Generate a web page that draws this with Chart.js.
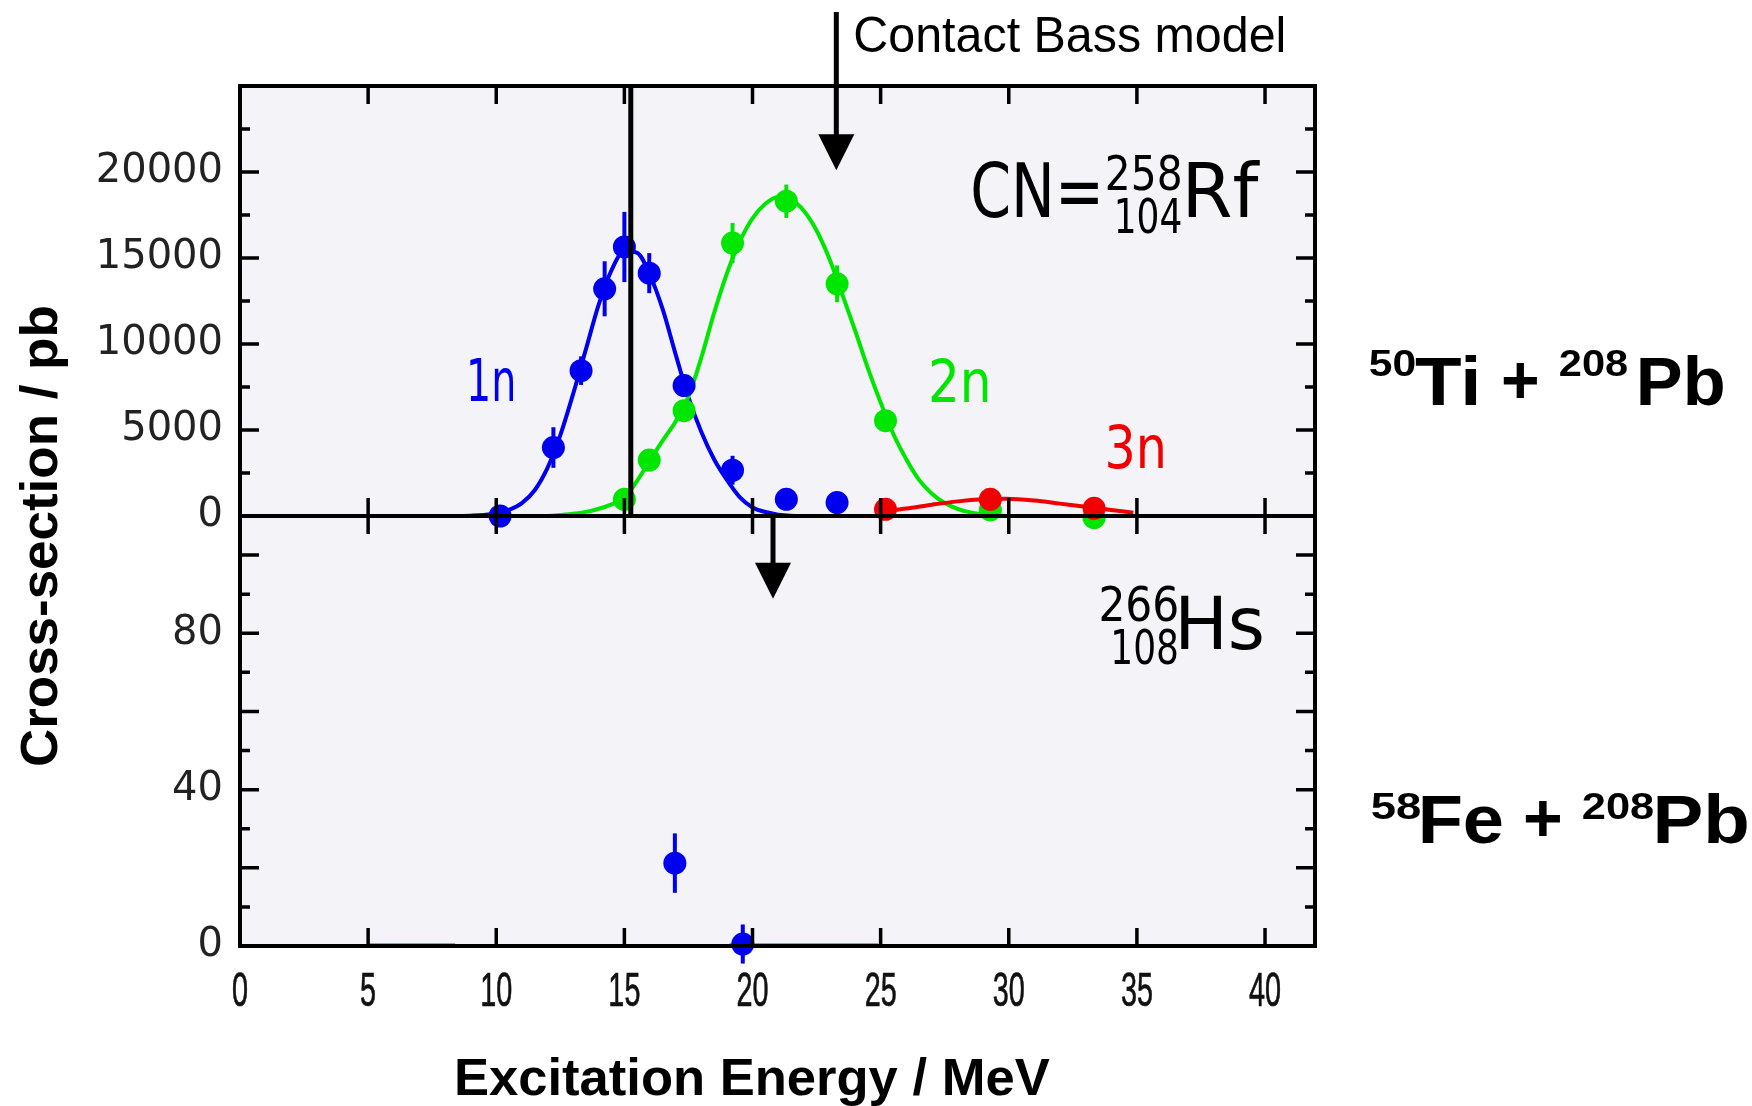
<!DOCTYPE html>
<html><head><meta charset="utf-8">
<script src="https://cdn.jsdelivr.net/npm/chart.js@4/dist/chart.umd.min.js"></script>
<style>html,body{margin:0;padding:0;background:#fff;}#wrap{width:1752px;height:1106px;position:relative;}</style>
</head><body><div id="wrap"><canvas id="c" width="1752" height="1106"></canvas></div>
<script>
// ---------------- data ----------------
const energyMin = 0, energyMax = 41.95;
const tiSigmaMax = 25000;   // upper panel (50Ti + 208Pb), pb
const feSigmaMax = 110;     // lower panel (58Fe + 208Pb), pb

// 1n (blue) measured points, 50Ti + 208Pb
const oneN_E     = [10.15, 12.23, 13.31, 14.23, 15.0, 15.97, 17.33, 19.22, 21.32, 23.3];
const oneN_sigma = [0, 3980, 8450, 13210, 15640, 14120, 7580, 2660, 970, 780];
const oneN_err   = [0, 1180, 830, 1600, 2040, 1165, 0, 840, 0, 0];
// 2n (green)
const twoN_E     = [15.0, 15.97, 17.33, 19.22, 21.32, 23.3, 25.19, 29.28, 33.33];
const twoN_sigma = [970, 3250, 6120, 15870, 18300, 13500, 5540, 350, -100];
const twoN_err   = [0, 0, 0, 1170, 970, 1070, 0, 0, 0];
// 3n (red)
const threeN_E     = [25.19, 29.28, 33.33];
const threeN_sigma = [390, 970, 450];

// fitted curves
const oneNFit_E = [8.5,9,9.5,10,10.5,11,11.5,12,12.5,13,13.5,14,14.5,15,15.5,16,16.5,17,17.5,18,18.5,19,19.5,20,20.5,21,21.5,22];
const oneNFit_sigma = [0,20,60,160,360,750,1500,2800,4700,7100,9700,12300,14300,15400,15300,14000,12000,9400,6900,4900,3300,2100,1100,500,230,80,15,0];
const twoNFit_E = [12,12.5,13,13.5,14,14.5,15,15.5,16,16.5,17,17.5,18,18.5,19,19.5,20,20.5,21,21.5,22,22.5,23,23.5,24,24.5,25,25.5,26,26.5,27,27.5,28,28.5,29,29.5,29.9];
const twoNFit_sigma = [0,60,130,240,420,680,1050,2050,3250,4400,5500,6950,9200,11800,14100,15950,17300,18150,18550,18400,17750,16600,14950,12900,10800,8600,6600,4750,3300,2100,1300,760,420,210,90,30,0];
const threeNFit_E = [25.19,26,27,28,29,29.9,31,32,33,34,34.86];
const threeNFit_sigma = [300,440,660,850,970,1000,900,720,540,350,190];

// 58Fe + 208Pb (blue) points
const fe_E     = [16.97, 19.62];
const fe_sigma = [21.2, 0.5];
const fe_err   = [7.6, 5];
const feFitA_E = [5.05, 8.4], feFitA_sigma = [0.4, 0.4];
const feFitB_E = [19.1, 24.9], feFitB_sigma = [0.4, 0.4];

// markers
const markerLineE = 15.25;                       // vertical line in upper panel
const bassArrowUpper = {E: 23.27, from: 29300, to: 20100};
const bassArrowLower = {E: 20.8, from: 110, to: 88.8};

// axis tick settings
const xStep = 5, tiStep = 2500, tiLabelStep = 5000, feStep = 10, feLabelStep = 40;

// ---------------- helpers ----------------
const BLUE = '#0000f0', GREEN = '#00e600', RED = '#f00000';
const pts = (xs, ys) => xs.map((x,i)=>({x:x, y:ys[i]}));

function inkText(ctx, s, left, baseline, font, color, inkW){
  ctx.save();
  ctx.font = font; ctx.fillStyle = color; ctx.textAlign='left'; ctx.textBaseline='alphabetic';
  const m = ctx.measureText(s);
  const w = m.actualBoundingBoxLeft + m.actualBoundingBoxRight;
  const sx = inkW ? inkW / w : 1;
  ctx.translate(left, baseline); ctx.scale(sx, 1);
  ctx.fillText(s, m.actualBoundingBoxLeft, 0);
  ctx.restore();
}
function centerText(ctx, s, cx, baseline, font, color, sx, strokeW){
  ctx.save();
  ctx.font = font; ctx.fillStyle = color; ctx.strokeStyle = color; ctx.textAlign='center'; ctx.textBaseline='alphabetic';
  ctx.translate(cx, baseline); ctx.scale(sx, 1);
  ctx.fillText(s, 0, 0);
  if (strokeW) { ctx.lineWidth = strokeW; ctx.strokeText(s, 0, 0); }
  ctx.restore();
}
function arrow(ctx, px, yTop, yTip){
  const hl = 36, hw = 18;
  ctx.save(); ctx.fillStyle='#000'; ctx.strokeStyle='#000'; ctx.lineWidth=5;
  ctx.beginPath(); ctx.moveTo(px, yTop); ctx.lineTo(px, yTip-hl+2); ctx.stroke();
  ctx.beginPath(); ctx.moveTo(px-hw, yTip-hl); ctx.lineTo(px+hw, yTip-hl); ctx.lineTo(px, yTip); ctx.closePath(); ctx.fill();
  ctx.restore();
}

const deco = {
  id: 'deco',
  beforeDraw(chart){
    const {ctx, chartArea:a} = chart;
    ctx.save(); ctx.fillStyle='#f3f3f8'; ctx.fillRect(a.left, a.top, a.right-a.left, a.bottom-a.top); ctx.restore();
  },
  beforeDatasetsDraw(chart){
    const ctx = chart.ctx;
    chart.data.datasets.forEach((ds, i)=>{
      if(!ds.errors) return;
      const meta = chart.getDatasetMeta(i), ys = chart.scales[ds.yAxisID];
      ctx.save(); ctx.strokeStyle = ds.backgroundColor; ctx.lineWidth = 4; ctx.lineCap='butt';
      ds.data.forEach((p, j)=>{
        const e = ds.errors[j]; if(!e) return;
        const px = meta.data[j].x;
        ctx.beginPath(); ctx.moveTo(px, ys.getPixelForValue(p.y-e)); ctx.lineTo(px, ys.getPixelForValue(p.y+e)); ctx.stroke();
      });
      ctx.restore();
    });
  },
  afterDatasetsDraw(chart){
    const {ctx, chartArea:a} = chart;
    const X = chart.scales.x, Y = chart.scales.y, Y2 = chart.scales.y2;
    const top = a.top, mid = Y.getPixelForValue(0), bot = a.bottom;
    // vertical marker line
    ctx.save(); ctx.strokeStyle='#000'; ctx.lineWidth=5;
    const mx = X.getPixelForValue(markerLineE);
    ctx.beginPath(); ctx.moveTo(mx, top); ctx.lineTo(mx, mid); ctx.stroke(); ctx.restore();
    // arrows
    arrow(ctx, X.getPixelForValue(bassArrowUpper.E), Y.getPixelForValue(bassArrowUpper.from), Y.getPixelForValue(bassArrowUpper.to));
    arrow(ctx, X.getPixelForValue(bassArrowLower.E), Y2.getPixelForValue(bassArrowLower.from), Y2.getPixelForValue(bassArrowLower.to));
    // frame
    ctx.save(); ctx.strokeStyle='#000'; ctx.lineWidth=4;
    ctx.strokeRect(a.left, top, a.right-a.left, bot-top);
    ctx.beginPath(); ctx.moveTo(a.left, mid); ctx.lineTo(a.right, mid); ctx.stroke();
    // ticks
    ctx.lineWidth=3.5;
    const L = 18;
    X.ticks.forEach(t=>{
      if(t.value<=energyMin || t.value>=energyMax) return;
      const px = X.getPixelForValue(t.value);
      ctx.beginPath();
      ctx.moveTo(px, top); ctx.lineTo(px, top+L);
      ctx.moveTo(px, mid-L); ctx.lineTo(px, mid+L);
      ctx.moveTo(px, bot); ctx.lineTo(px, bot-L);
      ctx.stroke();
    });
    const yt = (S, majorStep) => S.ticks.forEach(t=>{
      if(t.value<=S.min || t.value>=S.max) return;
      const py = S.getPixelForValue(t.value);
      const len = (Math.abs(t.value % majorStep) < 1e-6) ? 19 : 10;
      ctx.beginPath(); ctx.moveTo(a.left, py); ctx.lineTo(a.left+len, py);
      ctx.moveTo(a.right, py); ctx.lineTo(a.right-len, py); ctx.stroke();
    });
    yt(Y, tiLabelStep); yt(Y2, 20);
    ctx.restore();

    // x tick labels (condensed), from the library's ticks
    X.ticks.forEach(t=>{
      if(t.value % xStep !== 0) return;
      centerText(ctx, String(t.value), X.getPixelForValue(t.value), bot + 60, '48px "Liberation Sans"', '#111', 0.6, 0.7);
    });

    // in-plot annotations (anchored on data coordinates)
    const DIN = 'DejaVu Sans';
    inkText(ctx, 'Contact Bass model', X.getPixelForValue(24.01), Y.getPixelForValue(26984), '50px "Liberation Sans"', '#000', 428);
    const cnX = X.getPixelForValue(28.62), cnY = Y.getPixelForValue(17370);
    inkText(ctx, 'CN=', cnX, cnY, '74px "'+DIN+'"', '#000', 125);
    inkText(ctx, '258', cnX+134, cnY-27, '48px "'+DIN+'"', '#000', 73);
    inkText(ctx, '104', cnX+144, cnY+16, '48px "'+DIN+'"', '#000', 63);
    inkText(ctx, 'Rf', cnX+215, cnY, '74px "'+DIN+'"', '#000', 72);
    const hsX = X.getPixelForValue(33.6), hsY = Y2.getPixelForValue(83.2);
    inkText(ctx, '266', hsX, hsY, '48px "'+DIN+'"', '#000', 76);
    inkText(ctx, '108', hsX+13, hsY+43, '48px "'+DIN+'"', '#000', 63);
    inkText(ctx, 'Hs', hsX+80, hsY+28, '73px "'+DIN+'"', '#000', 81);
    inkText(ctx, '1n', X.getPixelForValue(8.98), Y.getPixelForValue(6700), '58px "'+DIN+'"', BLUE, 43);
    inkText(ctx, '2n', X.getPixelForValue(26.98), Y.getPixelForValue(6640), '58px "'+DIN+'"', GREEN, 56);
    inkText(ctx, '3n', X.getPixelForValue(33.87), Y.getPixelForValue(2800), '58px "'+DIN+'"', RED, 55);

    // reaction labels at right
    const B = 'bold 68px "Liberation Sans"', S = 'bold 36px "Liberation Sans"';
    inkText(ctx, '50', 1370, 376, S, '#000', 45);
    inkText(ctx, 'Ti', 1415, 405, B, '#000', 62);
    inkText(ctx, '+', 1503, 403, B, '#000', 34);
    inkText(ctx, '208', 1560, 376, S, '#000', 67);
    inkText(ctx, 'Pb', 1640, 405, B, '#000', 83);
    inkText(ctx, '58', 1372, 819, S, '#000', 48);
    inkText(ctx, 'Fe', 1422, 843, B, '#000', 80);
    inkText(ctx, '+', 1525, 841, B, '#000', 35);
    inkText(ctx, '208', 1583, 819, S, '#000', 70);
    inkText(ctx, 'Pb', 1657, 843, B, '#000', 90);

    // axis titles
    inkText(ctx, 'Excitation Energy / MeV', 457, 1095, 'bold 52px "Liberation Sans"', '#000', 593);
    ctx.save(); ctx.translate(57, 536); ctx.rotate(-Math.PI/2);
    inkText(ctx, 'Cross-section / pb', -229, 0, 'bold 52px "Liberation Sans"', '#000', 458);
    ctx.restore();
  }
};

const common = {borderWidth:0, pointRadius:11.5, pointHoverRadius:11.5, showLine:false, clip:false};
const fitCommon = {borderWidth:4, pointRadius:0, showLine:true, cubicInterpolationMode:'monotone', clip:false, fill:false};

new Chart(document.getElementById('c'), {
  type: 'scatter',
  data: { datasets: [
    Object.assign({label:'3n', data:pts(threeN_E, threeN_sigma), yAxisID:'y', backgroundColor:RED, order:0}, common),
    Object.assign({label:'2n', data:pts(twoN_E, twoN_sigma), errors:twoN_err, yAxisID:'y', backgroundColor:GREEN, order:1}, common),
    Object.assign({label:'1n', data:pts(oneN_E, oneN_sigma), errors:oneN_err, yAxisID:'y', backgroundColor:BLUE, order:2}, common),
    Object.assign({label:'3n fit', data:pts(threeNFit_E, threeNFit_sigma), yAxisID:'y', borderColor:RED, order:3}, fitCommon),
    Object.assign({label:'2n fit', data:pts(twoNFit_E, twoNFit_sigma), yAxisID:'y', borderColor:GREEN, order:4}, fitCommon),
    Object.assign({label:'1n fit', data:pts(oneNFit_E, oneNFit_sigma), yAxisID:'y', borderColor:BLUE, order:5}, fitCommon),
    Object.assign({label:'Fe 1n', data:pts(fe_E, fe_sigma), errors:fe_err, yAxisID:'y2', backgroundColor:BLUE, order:2}, common),
    Object.assign({label:'Fe fit A', data:pts(feFitA_E, feFitA_sigma), yAxisID:'y2', borderColor:'#3040d0', order:6}, fitCommon, {borderWidth:2}),
    Object.assign({label:'Fe fit B', data:pts(feFitB_E, feFitB_sigma), yAxisID:'y2', borderColor:'#3040d0', order:6}, fitCommon, {borderWidth:2})
  ]},
  options: {
    responsive:false, animation:false, events:[],
    layout:{padding:{left:0, right:437, top:86, bottom:0}},
    plugins:{legend:{display:false}, tooltip:{enabled:false}},
    scales:{
      x:{type:'linear', position:'bottom', min:energyMin, max:energyMax,
         grid:{display:false, drawTicks:false}, border:{display:false},
         ticks:{stepSize:xStep, includeBounds:false, autoSkip:false, display:false},
         afterFit(s){ s.height = 160; }},
      y2:{type:'linear', position:'left', stack:'panels', stackWeight:1, min:0, max:feSigmaMax,
         grid:{display:false, drawTicks:false}, border:{display:false},
         ticks:{stepSize:feStep, includeBounds:false, autoSkip:false, padding:17, color:'#222',
                font:{family:'DejaVu Sans', size:40},
                callback:(v)=> (v % feLabelStep === 0) ? String(v) : ''},
         afterFit(s){ s.width = 240; }},
      y:{type:'linear', position:'left', stack:'panels', stackWeight:1, min:0, max:tiSigmaMax,
         grid:{display:false, drawTicks:false}, border:{display:false},
         ticks:{stepSize:tiStep, includeBounds:false, autoSkip:false, padding:17, color:'#222',
                font:{family:'DejaVu Sans', size:40},
                callback:(v)=> (v % tiLabelStep === 0 && v < tiSigmaMax) ? String(v) : ''},
         afterFit(s){ s.width = 240; }}
    }
  },
  plugins:[deco]
});
</script></body></html>
